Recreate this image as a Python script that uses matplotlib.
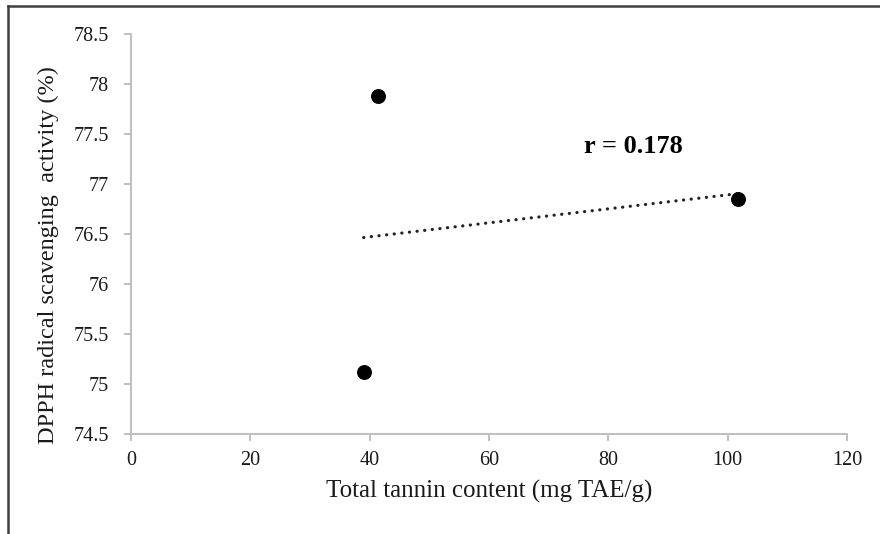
import matplotlib
matplotlib.use("Agg")
import matplotlib.pyplot as plt
from matplotlib.lines import Line2D
import numpy as np

# data
tannin = [41.4, 39.0, 101.7]        # mg TAE/g
dpph = [77.88, 75.12, 76.85]        # %
r_label = "r = 0.178"

xticks = [0, 20, 40, 60, 80, 100, 120]
yticks = [74.5, 75, 75.5, 76, 76.5, 77, 77.5, 78, 78.5]
ytick_labels = ["74.5", "75", "75.5", "76", "76.5", "77", "77.5", "78", "78.5"]

plt.rcParams["font.family"] = ["Liberation Serif", "DejaVu Serif"]

fig = plt.figure(figsize=(8.8, 5.34), dpi=100)
W, H = 880, 534
ax = fig.add_axes([131 / W, 1 - 434 / H, (847 - 131) / W, (434 - 34) / H])

ax.scatter(tannin, dpph, s=95, color="black", zorder=3)

# linear trendline over the data range
slope, icpt = np.polyfit(tannin, dpph, 1)
xs = np.array([min(tannin), max(tannin)])
ax.plot(xs, slope * xs + icpt, linestyle=(0, (0.05, 2.35)), color="#1c2333",
        linewidth=2.3, dash_capstyle="round", zorder=2)

ax.text(84.2, 77.37, r_label, fontsize=19, fontweight="bold", ha="center", va="center")

ax.set_xlim(0, 120)
ax.set_ylim(74.5, 78.5)
ax.set_xticks(xticks)
ax.set_yticks(yticks)
ax.set_yticklabels(ytick_labels)

grey = "#bfbfbf"
for side in ["top", "right"]:
    ax.spines[side].set_visible(False)
for side in ["left", "bottom"]:
    ax.spines[side].set_color(grey)
    ax.spines[side].set_linewidth(1.4)
ax.tick_params(axis="both", direction="out", length=5, width=1.4, color=grey,
               labelsize=14.5, labelcolor="#1a1a1a")
ax.tick_params(axis="x", pad=7)
ax.tick_params(axis="y", pad=11)

# axis titles placed to match the reference
fig.text(489 / W, 1 - 498 / H, "Total tannin content (mg TAE/g)", fontsize=18,
         color="#1a1a1a", ha="center", va="baseline")
fig.text(48 / W, 1 - 255 / H, "DPPH radical scavenging  activity (%)", fontsize=17.5,
         color="#1a1a1a", ha="center", va="center", rotation=90)

# outer frame of the cropped figure (left and top only)
fig.add_artist(Line2D([8 / W, 8 / W], [0, 1 - 6 / H], transform=fig.transFigure,
                      color="#404040", linewidth=1.8))
fig.add_artist(Line2D([8 / W, 1], [1 - 6 / H, 1 - 6 / H], transform=fig.transFigure,
                      color="#404040", linewidth=1.8))

fig.savefig("out.png", dpi=100)
